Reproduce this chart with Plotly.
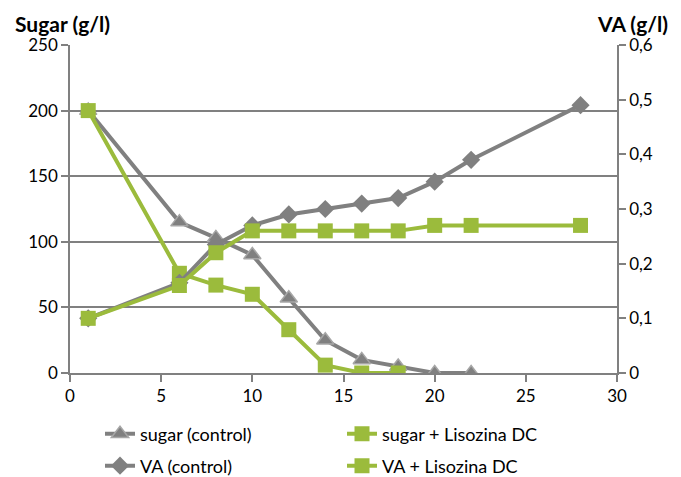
import plotly.graph_objects as go

# Data
x_sugar_ctrl = [1, 6, 8, 10, 12, 14, 16, 18, 20, 22]
sugar_ctrl = [200, 115, 103, 90, 57, 25, 10, 5, 0, 0]

x_sugar_liso = [1, 6, 8, 10, 12, 14, 16, 18]
sugar_liso = [200, 76, 67, 60, 33, 6, 0, 0]

x_va = [1, 6, 8, 10, 12, 14, 16, 18, 20, 22, 28]
va_ctrl = [0.10, 0.165, 0.235, 0.27, 0.29, 0.30, 0.31, 0.32, 0.35, 0.39, 0.49]
va_liso = [0.10, 0.16, 0.22, 0.26, 0.26, 0.26, 0.26, 0.26, 0.27, 0.27, 0.27]

GRAY = "#808080"
GREEN = "#9BBB3C"
FONT = "Lato"

# page has an 8px body margin; size the figure so it fits the 681x477 window
W, H = 673, 469

fig = go.Figure()
fig.add_trace(go.Scatter(x=x_sugar_ctrl, y=sugar_ctrl, name="sugar (control)",
                         mode="lines+markers", legend="legend",
                         line=dict(color=GRAY, width=4),
                         marker=dict(symbol="triangle-up", size=15, color=GRAY,
                                     line=dict(color="#a6a6a6", width=1.5))))
fig.add_trace(go.Scatter(x=x_sugar_liso, y=sugar_liso, name="sugar + Lisozina DC",
                         mode="lines+markers", legend="legend",
                         line=dict(color=GREEN, width=4),
                         marker=dict(symbol="square", size=15, color=GREEN)))
fig.add_trace(go.Scatter(x=x_va, y=va_ctrl, name="VA (control)", yaxis="y2",
                         mode="lines+markers", legend="legend2",
                         line=dict(color=GRAY, width=4),
                         marker=dict(symbol="diamond", size=14, color=GRAY)))
fig.add_trace(go.Scatter(x=x_va, y=va_liso, name="VA + Lisozina DC", yaxis="y2",
                         mode="lines+markers", legend="legend2",
                         line=dict(color=GREEN, width=4),
                         marker=dict(symbol="square", size=15, color=GREEN)))

axis_common = dict(showline=True, linecolor=GRAY, linewidth=1.5,
                   ticks="outside", ticklen=7, tickcolor=GRAY, tickwidth=1.5,
                   tickfont=dict(family=FONT, size=17, color="#000000"),
                   zeroline=False, automargin=False)

legend_common = dict(orientation="h", xref="container", yref="container",
                     x=92 / W, xanchor="left", yanchor="middle",
                     entrywidth=197, entrywidthmode="pixels",
                     font=dict(family=FONT, size=18), bgcolor="rgba(0,0,0,0)")

fig.update_layout(
    width=W, height=H,
    margin=dict(l=62, r=64, t=37, b=104, autoexpand=False),
    plot_bgcolor="white", paper_bgcolor="white",
    separators=",.",
    font=dict(family=FONT, size=16, color="#000000"),
    xaxis=dict(range=[0, 30], dtick=5, showgrid=False, **axis_common),
    yaxis=dict(range=[0, 250], dtick=50, showgrid=True, gridcolor=GRAY,
               gridwidth=1.5, **axis_common),
    yaxis2=dict(range=[0, 0.6], dtick=0.1, overlaying="y", side="right",
                showgrid=False, **axis_common),
    legend=dict(y=1 - 426 / H, **legend_common),
    legend2=dict(y=1 - 458 / H, **legend_common),
    showlegend=True,
    annotations=[
        dict(text="<b>Sugar (g/l)</b>", xref="paper", yref="paper", x=-0.104, y=1.0,
             xanchor="left", yanchor="middle", yshift=22, showarrow=False,
             font=dict(family=FONT, size=21)),
        dict(text="<b>VA (g/l)</b>", xref="paper", yref="paper", x=1.097, y=1.0,
             xanchor="right", yanchor="middle", yshift=22, showarrow=False,
             font=dict(family=FONT, size=21)),
    ],
)

fig.write_html("out.html")
